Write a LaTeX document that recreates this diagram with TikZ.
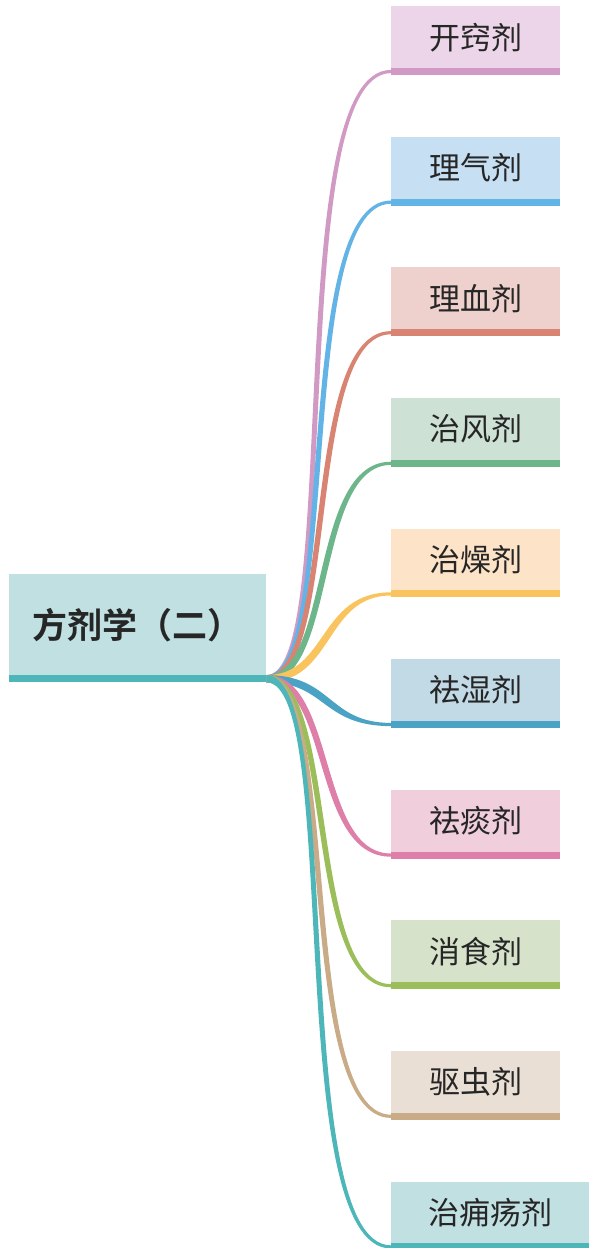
\documentclass[tikz,border=0pt]{standalone}
\usepackage{fontspec}
\newfontfamily\cjk{Noto Sans CJK SC}[BoldFont={Noto Sans CJK SC Bold}]
\usetikzlibrary{calc}
\definecolor{rootfill}{HTML}{C1E0E2}
\definecolor{rootline}{HTML}{4DB6B8}
\definecolor{txt}{HTML}{262626}
\definecolor{f0}{HTML}{ECD5E8}\definecolor{c0}{HTML}{D09AC5}
\definecolor{f1}{HTML}{C6DFF2}\definecolor{c1}{HTML}{62B3E6}
\definecolor{f2}{HTML}{EED1CC}\definecolor{c2}{HTML}{D98472}
\definecolor{f3}{HTML}{CDE1D5}\definecolor{c3}{HTML}{6DB58A}
\definecolor{f4}{HTML}{FDE3C7}\definecolor{c4}{HTML}{F9C35E}
\definecolor{f5}{HTML}{C1DAE6}\definecolor{c5}{HTML}{4AA2C4}
\definecolor{f6}{HTML}{F0CEDB}\definecolor{c6}{HTML}{DD7FA8}
\definecolor{f7}{HTML}{D6E3CA}\definecolor{c7}{HTML}{9BBE5A}
\definecolor{f8}{HTML}{E9DFD4}\definecolor{c8}{HTML}{C9AB87}
\definecolor{f9}{HTML}{C1E0E2}\definecolor{c9}{HTML}{4DB6B8}
\begin{document}
\begin{tikzpicture}[x=1pt,y=-1pt,
  rootbox/.style={fill=rootfill, inner sep=0pt, minimum width=257pt, minimum height=101pt,
    text=txt, font=\cjk\bfseries\fontsize{35}{35}\selectfont},
  barbox/.style={inner sep=0pt, minimum height=7pt},
  leafbox/.style={inner sep=0pt, minimum height=62pt, text=txt,
    font=\cjk\fontsize{31}{31}\selectfont}]
\useasboundingbox (0,0) rectangle (589,1248);
\def\ra{3.6}\def\rb{1.6}\def\dd{3.2}
% root
\node[rootbox, anchor=north west] (root) at (9,574) {方剂学（二）};
\node[barbox, fill=rootline, minimum width=257pt, anchor=north west] (rootbar) at (9,675) {};
% leaves
\foreach \i/\t/\w in {0/开窍剂/169,1/理气剂/169,2/理血剂/169,3/治风剂/169,4/治燥剂/169,
  5/祛湿剂/169,6/祛痰剂/169,7/消食剂/169,8/驱虫剂/169,9/治痈疡剂/198}{
  \node[leafbox, fill=f\i, minimum width=\w pt, anchor=north west] (l\i) at (391,{6+130.6*\i}) {\t};
  \node[barbox, fill=c\i, minimum width=\w pt, anchor=north west] (b\i) at (391,{67.8+130.6*\i}) {};
}
% branches (tapered)
\foreach \i/\p/\q/\s in {0/78.4/-109.2/1,1/74.9/-99.2/1,2/71.3/-89.3/1,3/67.8/-79.4/1,
  4/64.3/-69.5/1,5/63.2/-66.5/-1,6/66.8/-76.4/-1,7/70.3/-86.3/-1,8/73.8/-96.3/-1,9/77.3/-106.2/-1}{
  \fill[c\i] ($(rootbar.east)+(0,-\ra)$)
    .. controls ($(rootbar.east)+({\p-(\s)*\dd},-\ra)$) and ($(b\i.west)+({\q-(\s)*\dd},-\rb)$)
    .. ($(b\i.west)+(0,-\rb)$) -- ($(b\i.west)+(0,\rb)$)
    .. controls ($(b\i.west)+({\q+(\s)*\dd},\rb)$) and ($(rootbar.east)+({\p+(\s)*\dd},\ra)$)
    .. ($(rootbar.east)+(0,\ra)$) -- cycle;
}
\end{tikzpicture}
\end{document}
